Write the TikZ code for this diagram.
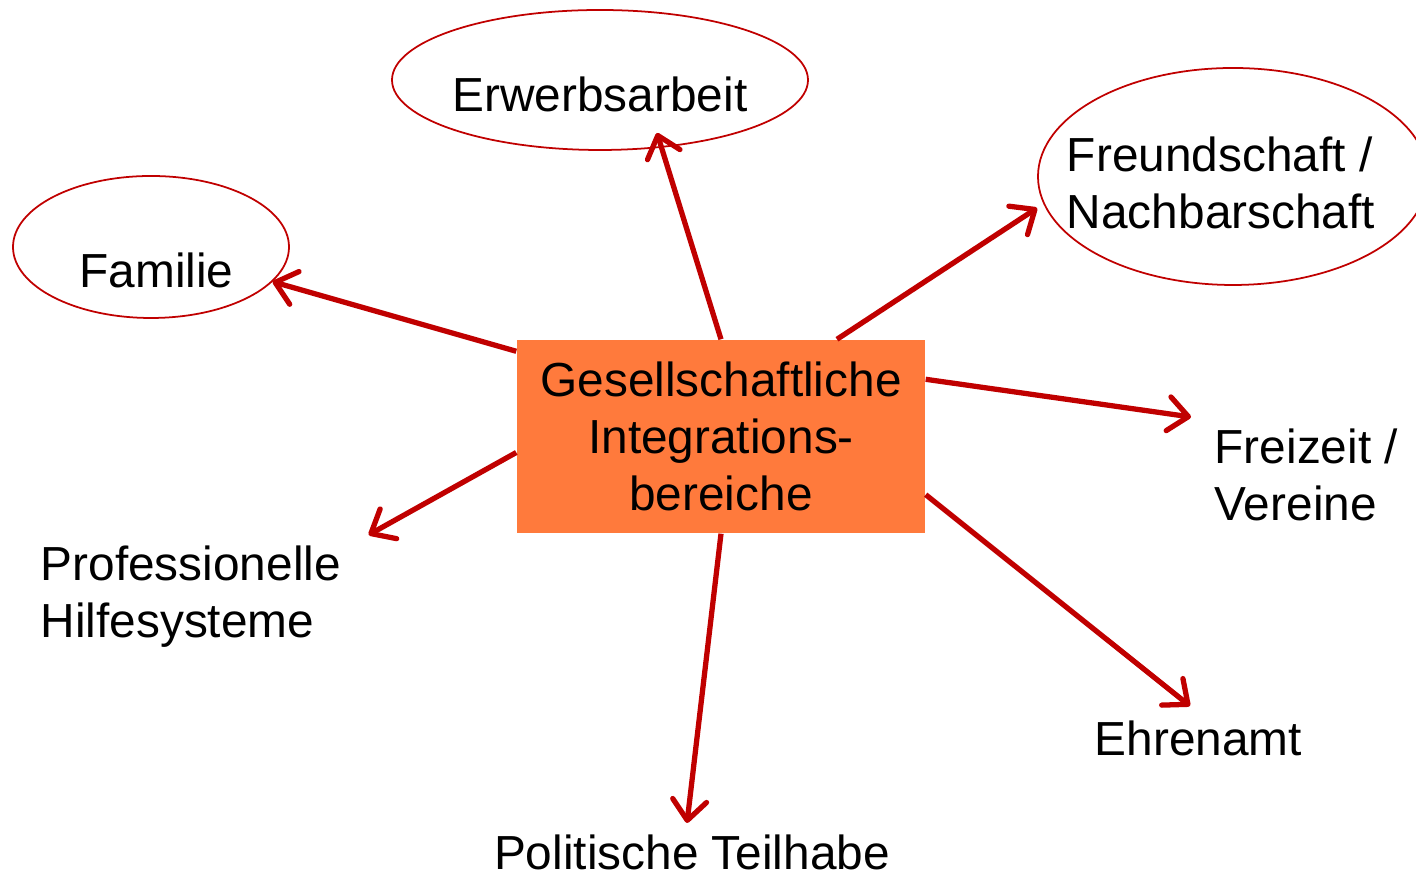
\documentclass[tikz,border=0pt]{standalone}
\usepackage{fontspec}
\setmainfont{Liberation Sans}
\usetikzlibrary{shapes.geometric, arrows.meta}
\definecolor{boxorange}{RGB}{255,122,60}
\definecolor{darkred}{RGB}{192,0,0}

\begin{document}
\begin{tikzpicture}[
    >={Straight Barb[length=2mm, width=3.4mm, round]},
    every node/.style={font=\fontsize{13.6pt}{16.3pt}\selectfont},
    bubble/.style={draw=darkred, line width=.5pt, ellipse, inner sep=0pt},
    centrebox/.style={fill=boxorange, minimum width=4.08cm, minimum height=1.93cm, align=center},
    plain/.style={inner sep=0pt, align=left},
    link/.style={->, draw=darkred, line width=1.5pt}
]
    \useasboundingbox (0, 0) rectangle (14.16, -8.76);

    % CENTRE BOX
    \node (centre) at (7.21, -4.365) [centrebox] {Gesellschaftliche\\Integrations-\\bereiche};

    % ELLIPSES
    \node (erwerb) at (6.00, -0.80) [bubble, minimum width=4.16cm, minimum height=1.40cm, label={[yshift=-0.145cm]center:Erwerbsarbeit}] {};
    \node (familie) at (1.51, -2.47) [bubble, minimum width=2.76cm, minimum height=1.42cm, label={[xshift=0.055cm, yshift=-0.235cm]center:Familie}] {};
    \node (freund) at (12.33, -1.765) [bubble, minimum width=3.9cm, minimum height=2.17cm, label={[align=left, xshift=-0.12cm, yshift=-0.065cm]center:Freundschaft /\\Nachbarschaft}] {};

    % PLAIN TEXTS
    \node (freizeit) at (12.14, -4.75) [plain, anchor=west] {Freizeit /\\Vereine};
    \node (profi) at (0.40, -5.965) [plain, anchor=west] {Professionelle\\Hilfesysteme};
    \node (ehrenamt) at (10.94, -7.56) [plain, anchor=base west] {Ehrenamt};
    \node (politik) at (6.92, -8.70) [plain, anchor=base] {Politische Teilhabe};

    % ARROWS FROM THE CENTRE
    \draw[link] ([yshift=-0.12cm]centre.north west) -- (familie);
    \draw[link] (centre.north) -- ([shift={(0.57,-0.53)}]erwerb.center);
    \draw[link] ([xshift=1.16cm]centre.north) -- ([yshift=-0.315cm]freund.west);
    \draw[link] ([yshift=-0.40cm]centre.north east) -- ([shift={(-0.23,0.58)}]freizeit.west);
    \draw[link] ([yshift=0.39cm]centre.south east) -- ([shift={(0.96,0.50)}]ehrenamt.base west);
    \draw[link] (centre.south) -- ([shift={(-0.05,0.47)}]politik.base);
    \draw[link] ([yshift=-0.16cm]centre.west) -- ([shift={(0.27,0.10)}]profi.north east);
\end{tikzpicture}
\end{document}
